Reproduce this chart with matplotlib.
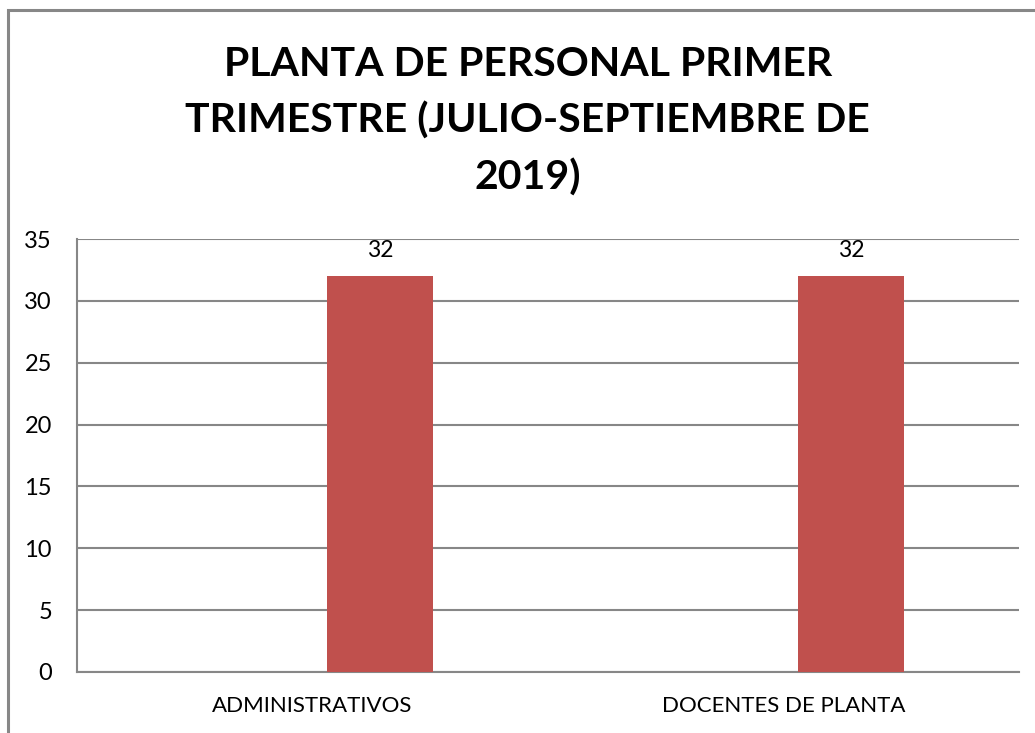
import matplotlib.pyplot as plt
from matplotlib.patches import Rectangle

categorias = ["ADMINISTRATIVOS", "DOCENTES DE PLANTA"]
valores = [32, 32]
yticks = [0, 5, 10, 15, 20, 25, 30, 35]
titulo = "PLANTA DE PERSONAL PRIMER\nTRIMESTRE (JULIO-SEPTIEMBRE DE\n2019)"

plt.rcParams['font.family'] = ['Lato', 'DejaVu Sans']

fig = plt.figure(figsize=(10.35, 7.33), dpi=100)
W, H = 1035, 733

# borde exterior del grafico (cortado a la derecha y abajo)
fig.patches.append(Rectangle((8 / W, -0.01), 1.1, 1 - 10 / H + 0.01,
                             transform=fig.transFigure, fill=False,
                             edgecolor="#878787", linewidth=2.2))

ax = fig.add_axes([77 / W, 1 - 672 / H, (1019 - 77) / W, (672 - 239) / H])

x = list(range(len(categorias)))
offset = 0.143
barras = ax.bar([i + offset for i in x], valores, width=0.225, color="#C0504D", zorder=3)
for b, v in zip(barras, valores):
    ax.text(b.get_x() + b.get_width() / 2, v + 1.2, str(v), ha="center", va="bottom",
            fontsize=16.5, color="black")

ax.set_xlim(-0.5, len(categorias) - 0.5)
ax.set_ylim(0, 35)
ax.set_yticks(yticks)
ax.set_xticks(x)
ax.set_xticklabels(categorias, fontsize=16)
ax.tick_params(axis="y", labelsize=17, length=0, pad=18)
ax.tick_params(axis="x", length=0, pad=17)
ax.grid(axis="y", color="#878787", linewidth=1.5, zorder=0)
for s in ["top", "right"]:
    ax.spines[s].set_visible(False)
for s in ["left", "bottom"]:
    ax.spines[s].set_color("#878787")
    ax.spines[s].set_linewidth(1.5)

fig.text(0.51, 1 - 121 / H, titulo, ha="center", va="center", fontsize=29.5,
         fontweight="bold", linespacing=1.6)

fig.savefig("out.png", dpi=100)
